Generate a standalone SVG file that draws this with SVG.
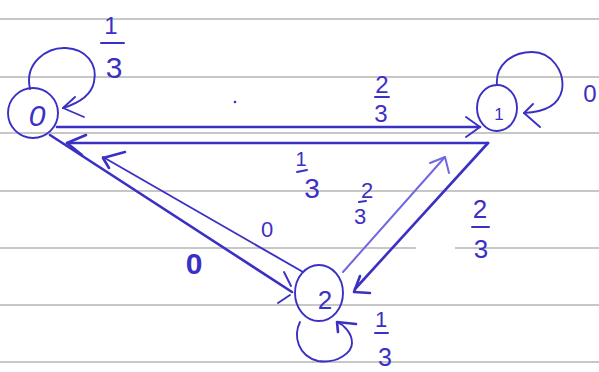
<svg xmlns="http://www.w3.org/2000/svg" width="599" height="372" viewBox="0 0 599 372">
<style>
.paper{stroke:#b4b4b4;stroke-width:1.3;fill:none}
.ink{stroke:#3b30c4;stroke-width:2.6;fill:none;stroke-linecap:round;stroke-linejoin:round}
.thin{stroke:#3b30c4;stroke-width:1.9;fill:none;stroke-linecap:round;stroke-linejoin:round}
.light{stroke:#7068e0;stroke-width:2;fill:none;stroke-linecap:round;stroke-linejoin:round}
.node{stroke:#3b30c4;stroke-width:1.9;fill:none}
.lbl{font-family:"Liberation Sans",sans-serif;fill:#3b30c4;text-anchor:middle}
.bar{stroke:#3b30c4;stroke-width:2;stroke-linecap:round}
</style>
<rect width="599" height="372" fill="#ffffff"/>
<g id="paper">
<line class="paper" x1="0" y1="19" x2="599" y2="19"/>
<line class="paper" x1="0" y1="77" x2="599" y2="77"/>
<line class="paper" x1="0" y1="133" x2="599" y2="133"/>
<line class="paper" x1="0" y1="191" x2="599" y2="191"/>
<line class="paper" x1="0" y1="248" x2="416" y2="248"/>
<line class="paper" x1="455" y1="248" x2="599" y2="248"/>
<line class="paper" x1="0" y1="305" x2="599" y2="305"/>
<line class="paper" x1="0" y1="362" x2="599" y2="362"/>
<circle cx="235" cy="102" r="1.3" fill="#3b30c4"/>
</g>
<g id="connectors">
<g id="e01"><line class="ink" x1="57" y1="127" x2="480" y2="127"/><path class="thin" d="M466,117 L480,127 L466,137"/></g>
<g id="e10"><line class="ink" x1="488" y1="143" x2="67" y2="143"/><path class="ink" d="M86,135 L67,143 L82,155"/></g>
<g id="e02"><line class="ink" x1="50" y1="135" x2="292" y2="292"/><path class="thin" d="M284,272 L291,286 M278,303 L290,295"/></g>
<g id="e20"><line class="thin" x1="303" y1="272" x2="103" y2="157"/><path class="ink" d="M125,152 L103,158 L109,168"/></g>
<g id="e12"><line class="ink" x1="488" y1="143" x2="355" y2="289"/><path class="ink" d="M360,276 L354,292 L370,293"/></g>
<g id="e21"><line class="light" x1="343" y1="272" x2="445" y2="157"/><path class="light" d="M430,163 L445,157 L449,173"/></g>
<g id="loop0"><path class="thin" d="M30,89 C24,62 48,47 66,48 C86,49 98,64 94,82 C91,97 76,104 63,108"/><path class="thin" d="M75,97 L63,108 L84,117"/></g>
<g id="loop1"><path class="thin" d="M497,85 C495,65 512,52 532,52 C552,52 565,72 562,90 C559,104 546,112 524,113"/><path class="thin" d="M533,104 L524,113 L540,127"/></g>
<g id="loop2"><path class="thin" d="M300,322 C293,336 298,356 318,361 C338,364 352,352 352,343 C352,333 344,325 337,322"/><path class="ink" d="M338,332 L337,322 L356,324"/></g>
</g>
<g id="node0"><ellipse class="node" cx="33" cy="113" rx="25" ry="25"/><text class="lbl" x="37" y="126" font-size="30" font-style="italic">0</text></g>
<g id="node1"><ellipse class="node" cx="497" cy="108" rx="20" ry="23"/><text class="lbl" x="499" y="120" font-size="17">1</text></g>
<g id="node2"><ellipse class="node" cx="319" cy="293" rx="24" ry="28"/><text class="lbl" x="325" y="309" font-size="26">2</text></g>
<g id="labels">
<text class="lbl" x="111" y="34" font-size="24">1</text><line class="bar" x1="101" y1="43" x2="124" y2="43"/><text class="lbl" x="114" y="78" font-size="30">3</text>
<text class="lbl" x="382" y="93" font-size="24">2</text><line class="bar" x1="375" y1="97" x2="389" y2="97"/><text class="lbl" x="381" y="122" font-size="24">3</text>
<text class="lbl" x="590" y="102" font-size="24">0</text>
<text class="lbl" x="301" y="166" font-size="20">1</text><line class="bar" x1="297" y1="172" x2="307" y2="170"/><text class="lbl" x="312" y="198" font-size="28">3</text>
<text class="lbl" x="367" y="198" font-size="22">2</text><line class="bar" x1="359" y1="202" x2="366" y2="201"/><text class="lbl" x="360" y="224" font-size="22">3</text>
<text class="lbl" x="480" y="218" font-size="26">2</text><line class="bar" x1="472" y1="227" x2="489" y2="227"/><text class="lbl" x="481" y="258" font-size="26">3</text>
<text class="lbl" x="267" y="237" font-size="22">0</text>
<text class="lbl" x="194" y="274" font-size="30" font-weight="bold">0</text>
<text class="lbl" x="381" y="327" font-size="22">1</text><line class="bar" x1="375" y1="333" x2="388" y2="333"/><text class="lbl" x="385" y="366" font-size="25">3</text>
</g>
</svg>
